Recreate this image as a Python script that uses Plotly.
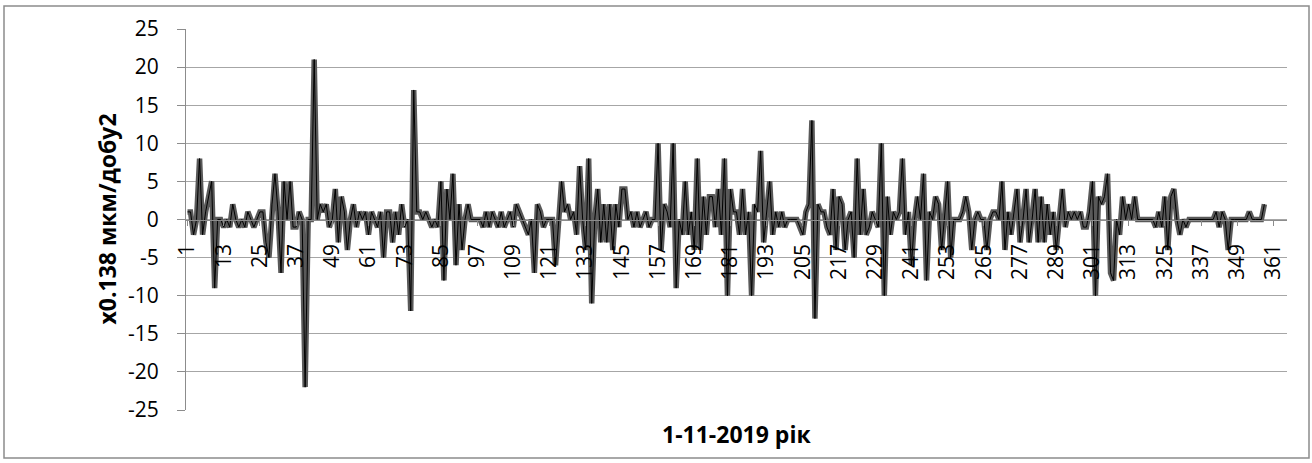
import plotly.graph_objects as go

# daily values, 1..358 (rest of the year left empty)
values = [
    1, 1, -2, 0, 8, -2, 1, 3, 5, -9,
    0, 0, -1, 0, -1, 2, 0, -1, 0, -1,
    1, 0, -1, 0, 1, 1, -3, -5, 2, 6,
    1, -7, 5, 0, 5, -1, -1, 1, 0, -22,
    0, 0, 21, 0, 2, 1, 2, -1, 0, 4,
    -3, 3, 1, -4, 0, 2, -1, 1, 0, 1,
    -2, 1, 0, -1, 1, -5, 1, 1, -3, 1,
    -2, 2, -1, 0, -12, 17, 1, 1, 0, 1,
    0, -1, 0, -1, 5, -8, 4, 0, 6, -6,
    2, -4, 0, 2, 0, 0, 0, 0, -1, 1,
    -1, 1, 0, -1, 1, -1, 0, 1, -1, 2,
    1, 0, -1, -2, 0, -7, 2, 1, -1, 0,
    0, 0, -6, 0, 5, 1, 2, 0, 1, -2,
    7, 0, -4, 8, -11, 0, 4, -3, 2, -3,
    2, -4, 2, -1, 4, 4, 0, 1, -1, 1,
    -1, 0, 1, -1, 0, 0, 10, -4, 2, 1,
    -1, 10, -9, 0, -2, 5, -2, 1, -4, 8,
    -4, 3, -2, 3, 3, -1, 4, -2, 8, -10,
    4, 1, 1, -2, 4, -2, 1, -10, 2, 1,
    9, -3, 1, 5, -2, 1, -1, 1, -1, 0,
    0, 0, 0, -1, -2, 1, 2, 13, -13, 2,
    1, 1, -1, -2, 4, -4, 3, 2, -4, 0,
    1, -5, 8, -2, 4, -2, -1, 1, 0, -1,
    10, -10, 3, -2, 1, 0, 1, 8, -2, 1,
    -6, 0, 3, 0, 6, -8, 1, 0, 3, 2,
    -4, 0, 5, -5, 0, 0, 0, 1, 3, 1,
    -4, 0, 1, 0, 0, -4, 0, 1, 1, 0,
    5, -4, 1, -2, 1, 4, -3, 0, 4, -3,
    0, 4, -3, 3, -3, 2, -2, 1, -4, 0,
    4, -1, 1, 0, 1, 0, 1, -1, -1, 1,
    5, -10, 3, 2, 3, 6, -7, -8, 0, -2,
    3, 0, 2, 0, 3, 0, 0, 0, 0, 0,
    0, -1, 1, -1, 3, -4, 3, 4, 0, -2,
    0, -1, 0, 0, 0, 0, 0, 0, 0, 0,
    0, 1, -1, 1, 0, -4, 0, 0, 0, 0,
    0, 0, 1, 0, 0, 0, 0, 2,
]
n_days = 365
days = list(range(1, n_days + 1))
y = values + [None] * (n_days - len(values))
tick_days = list(range(1, n_days + 1, 12))
y_ticks = list(range(-25, 26, 5))

font = "Open Sans"
axis_grey = "#8c8c8c"

fig = go.Figure()
# thick grey stroke with a thin black core, like the Excel line
fig.add_trace(go.Scatter(x=days, y=y, mode="lines",
                         line=dict(color="#595959", width=5.5), hoverinfo="skip"))
fig.add_trace(go.Scatter(x=days, y=y, mode="lines",
                         line=dict(color="#000000", width=1)))

fig.update_layout(
    width=1312, height=463,
    margin=dict(l=186, r=25, t=29, b=53),
    paper_bgcolor="white", plot_bgcolor="white",
    showlegend=False,
    font=dict(family=font, color="black"),
    xaxis=dict(
        range=[0.5, n_days + 0.5],
        tickmode="array", tickvals=tick_days, ticktext=[str(d) for d in tick_days],
        tickangle=-90, tickfont=dict(size=21),
        anchor="free", position=0.5,
        showline=True, linecolor=axis_grey, linewidth=1,
        showgrid=False, zeroline=False,
        ticks="outside", ticklen=5, tickcolor=axis_grey, ticklabelstandoff=10,
    ),
    yaxis=dict(
        range=[-25, 25],
        tickmode="array", tickvals=y_ticks, ticktext=[str(v) for v in y_ticks],
        showgrid=True, gridcolor="#a6a6a6", gridwidth=1,
        zeroline=False,
        showline=True, linecolor=axis_grey, linewidth=1,
        tickfont=dict(size=21),
        ticks="outside", ticklen=8, tickcolor=axis_grey, ticklabelstandoff=14,
    ),
)

fig.add_annotation(text="x0.138 мкм/добу2", xref="paper", yref="paper",
                   x=(106 - 186) / 1101, y=0.5, textangle=-90, showarrow=False,
                   xanchor="center", yanchor="middle",
                   font=dict(size=23, family=font, weight="bold"))
fig.add_annotation(text="1-11-2019 рік", xref="paper", yref="paper",
                   x=0.5, y=(410 - 434) / 381, showarrow=False, yanchor="middle",
                   font=dict(size=23, family=font, weight="bold"))

# chart area border
fig.add_shape(type="rect", xref="paper", yref="paper",
              x0=(4 - 186) / 1101, x1=(1309 - 186) / 1101,
              y0=(410 - 458) / 381, y1=(410 - 6) / 381,
              line=dict(color=axis_grey, width=1.5))

fig.write_html("out.html", config={"displayModeBar": False},
               post_script="document.body.style.margin='0';")
